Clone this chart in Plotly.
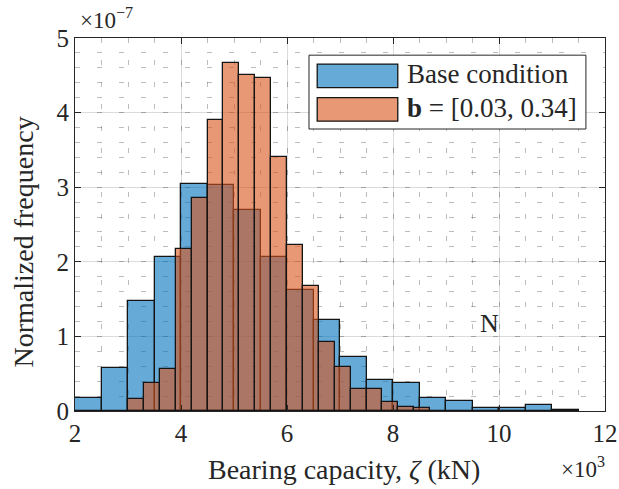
import numpy as np
import plotly.graph_objects as go

# ---------------- data (x in 10^3 kN, y in 10^-7) ----------------
blue_name = "Base condition"
blue_bin_edges = [2.0, 2.5, 3.0, 3.5, 4.0, 4.5, 5.0, 5.5, 6.0, 6.5, 7.0, 7.5,
                  8.0, 8.5, 9.0, 9.5, 10.0, 10.5, 11.0, 11.5]
blue_values = [0.18, 0.58, 1.48, 2.06, 3.04, 3.03, 2.70, 2.06, 1.62, 1.22,
               0.72, 0.42, 0.38, 0.18, 0.14, 0.04, 0.04, 0.08, 0.02]

orange_name = "<b>b</b> = [0.03, 0.34]"
orange_bin_edges = [3.0, 3.3, 3.6, 3.9, 4.2, 4.5, 4.8, 5.1, 5.4, 5.7, 6.0, 6.3,
                    6.6, 6.9, 7.2, 7.5, 7.8, 8.1, 8.4, 8.7]
orange_values = [0.16, 0.37, 0.56, 2.17, 2.86, 3.90, 4.67, 4.51, 4.47, 3.40,
                 2.23, 1.67, 0.93, 0.59, 0.29, 0.29, 0.12, 0.06, 0.04]

x_ticks = [2, 4, 6, 8, 10, 12]
y_ticks = [0, 1, 2, 3, 4, 5]

x_title = "Bearing capacity, <i>ζ</i> (kN)"
y_title = "Normalized frequency"
x_exponent = "×10<sup>3</sup>"
y_exponent = "×10<sup>−7</sup>"
marker_text = "N"
marker_pos = (9.83, 1.17)

# ---------------- styling ----------------
BLUE = "rgba(0,114,189,0.6)"
ORANGE = "rgba(217,83,25,0.6)"
EDGE = "rgb(20,20,20)"
INK = "#262626"
FONT = "Liberation Serif"

def centers_widths(edges):
    e = np.asarray(edges, dtype=float)
    return (e[:-1] + e[1:]) / 2, np.diff(e)

bx, bw = centers_widths(blue_bin_edges)
ox, ow = centers_widths(orange_bin_edges)

fig = go.Figure()
fig.add_trace(go.Bar(x=bx, y=blue_values, width=bw, name=blue_name,
                     marker=dict(color=BLUE, line=dict(color=EDGE, width=1.3))))
fig.add_trace(go.Bar(x=ox, y=orange_values, width=ow, name=orange_name,
                     marker=dict(color=ORANGE, line=dict(color=EDGE, width=1.3))))

axis_common = dict(
    showline=True, linecolor=INK, linewidth=1, mirror="ticks",
    ticks="inside", ticklen=6, tickcolor=INK, tickwidth=1,
    showgrid=True, gridcolor="rgba(0,0,0,0.14)", gridwidth=1,
    zeroline=False, automargin=False,
    tickfont=dict(family=FONT, size=25, color=INK),
)

fig.update_xaxes(
    range=[2, 12], tickvals=x_ticks, ticktext=[str(v) for v in x_ticks],
    minor=dict(dtick=0.5, showgrid=True, gridcolor="rgba(0,0,0,0.26)",
               griddash="5px,17px", ticks=""),
    **axis_common,
)
fig.update_yaxes(
    range=[0, 5], tickvals=y_ticks, ticktext=[str(v) for v in y_ticks],
    minor=dict(dtick=0.2, showgrid=True, gridcolor="rgba(0,0,0,0.26)",
               griddash="5px,17px", ticks=""),
    **axis_common,
)

# manual legend (wide MATLAB-style swatches)
lx0, lx1, ly0, ly1 = 0.4415, 0.964, 0.756, 0.954
sx0, sx1 = 0.457, 0.609
shapes = [
    dict(type="rect", xref="paper", yref="paper", x0=lx0, x1=lx1, y0=ly0, y1=ly1,
         fillcolor="white", line=dict(color=INK, width=1)),
    dict(type="rect", xref="paper", yref="paper", x0=sx0, x1=sx1, y0=0.867, y1=0.930,
         fillcolor=BLUE, line=dict(color=EDGE, width=1.3)),
    dict(type="rect", xref="paper", yref="paper", x0=sx0, x1=sx1, y0=0.777, y1=0.840,
         fillcolor=ORANGE, line=dict(color=EDGE, width=1.3)),
]
annotations = [
    dict(text=blue_name, xref="paper", yref="paper", x=0.623, y=0.904,
         xanchor="left", yanchor="middle", showarrow=False,
         font=dict(family=FONT, size=27, color=INK)),
    dict(text=orange_name, xref="paper", yref="paper", x=0.623, y=0.812,
         xanchor="left", yanchor="middle", showarrow=False,
         font=dict(family=FONT, size=27, color=INK)),
    dict(text=y_exponent, xref="paper", yref="paper", x=0.006, y=1.0,
         xanchor="left", yanchor="bottom", yshift=3, showarrow=False,
         font=dict(family=FONT, size=23, color=INK)),
    dict(text=x_exponent, xref="paper", yref="paper", x=1.004, y=-0.152,
         xanchor="right", yanchor="middle", showarrow=False,
         font=dict(family=FONT, size=23, color=INK)),
    dict(text=x_title, xref="paper", yref="paper", x=0.507, y=-0.158,
         xanchor="center", yanchor="middle", showarrow=False,
         font=dict(family=FONT, size=28, color=INK)),
    dict(text=y_title, xref="paper", yref="paper", x=-0.098, y=0.452,
         xanchor="center", yanchor="middle", textangle=-90, showarrow=False,
         font=dict(family=FONT, size=28, color=INK)),
    dict(text=marker_text, x=marker_pos[0], y=marker_pos[1], xref="x", yref="y",
         showarrow=False, font=dict(family=FONT, size=26, color=INK)),
]

fig.update_layout(
    width=619, height=489,
    margin=dict(l=75, r=14, t=38, b=78),
    paper_bgcolor="white", plot_bgcolor="white",
    barmode="overlay", bargap=0, showlegend=False,
    shapes=shapes, annotations=annotations,
    font=dict(family=FONT, color=INK),
)

fig.write_html("out.html", config={"displayModeBar": False},
               post_script="document.body.style.margin='0';document.body.style.overflow='hidden';")
